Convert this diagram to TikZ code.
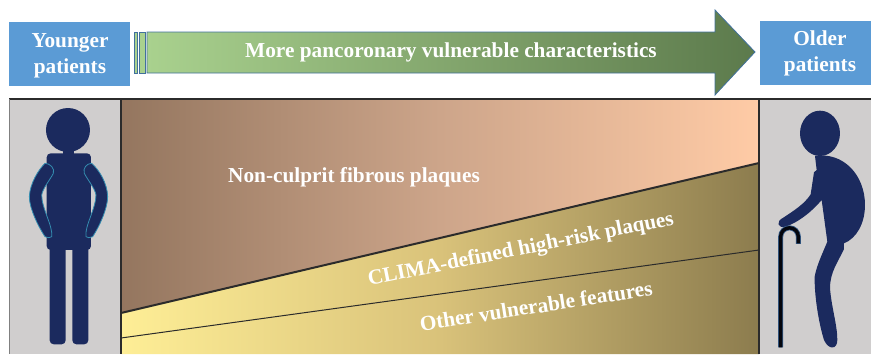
\documentclass[tikz,border=0pt]{standalone}
\usepackage{fontspec}
\setmainfont{Liberation Serif}
\usetikzlibrary{calc}

\definecolor{boxblue}{HTML}{5B9BD5}
\definecolor{edgeblue}{HTML}{41719C}
\definecolor{navyfig}{HTML}{1B2A5E}
\definecolor{panelgray}{HTML}{D0CECE}
\definecolor{framedark}{HTML}{2B2B2B}

\begin{document}
\begin{tikzpicture}[
  x=1pt, y=-1pt,
  agebox/.style={text=white, font=\bfseries\fontsize{21.3}{26}\selectfont, align=center},
  whitelabel/.style={text=white, font=\bfseries\fontsize{21.3}{26}\selectfont},
  trend/.style={draw=edgeblue, line width=0.8pt},
  figure/.style={fill=navyfig},
  armfig/.style={fill=navyfig, draw=edgeblue!80!cyan, line width=0.8pt},
  panelline/.style={draw=framedark, line width=1.3pt},
]
\useasboundingbox (0,0) rectangle (871,354);

% --- Altersboxen oben ---
\fill[boxblue] (9,22) rectangle (130,86);
\fill[boxblue] (760,21) rectangle (871,85);
\node[agebox] (younger) at (70,55.5) {Younger\\patients};
\node[agebox] (older) at (820,53.5) {Older\\patients};

% --- Pfeil mit den zwei schmalen Streifen davor ---
\draw[trend, fill={rgb,255:red,169;green,209;blue,142}] (134,32) rectangle (137.5,73);
\draw[trend, fill={rgb,255:red,169;green,209;blue,142}] (139,32) rectangle (145,73);
\draw[trend, left color={rgb,255:red,169;green,209;blue,142}, right color={rgb,255:red,92;green,122;blue,76}]
  (147,32) -- (715,32) -- (715,10) -- (755,52) -- (715,95) -- (715,73) -- (147,73) -- cycle;
\node[whitelabel] (trendlabel) at (451,52.5) {More pancoronary vulnerable characteristics};

% --- Graue Seitenfelder ---
\fill[panelgray] (9,99) rectangle (121,354);
\fill[panelgray] (759,99) rectangle (871,354);

% --- Mittelfeld: zwei Flaechen mit Verlauf ---
\shade[left color={rgb,255:red,148;green,118;blue,95}, right color={rgb,255:red,255;green,203;blue,166}, middle color={rgb,255:red,205;green,165;blue,138}]
  (121,99) -- (759,99) -- (759,163) -- (121,313) -- cycle;
\shade[left color={rgb,255:red,254;green,238;blue,150}, right color={rgb,255:red,140;green,124;blue,78}, middle color={rgb,255:red,217;green,194;blue,122}]
  (121,313) -- (759,163) -- (759,354) -- (121,354) -- cycle;

% --- Trennlinien ---
\draw[framedark, line width=2pt] (121,313) -- (759,163);
\draw[framedark, line width=1pt] (121,338) -- (759,250);

% --- Rahmen ---
\draw[framedark, line width=1.2pt] (9,99) -- (871,99);
\draw[gray, line width=1pt] (9,99) -- (9,354);
\draw[panelline] (121,99) -- (121,354);
\draw[panelline] (759,99) -- (759,354);

% --- Beschriftungen der Flaechen ---
\node[whitelabel] (fibrous) at (354,177.5) {Non-culprit fibrous plaques};
\node[whitelabel, rotate=11.3] (clima) at (521,250) {CLIMA-defined high-risk plaques};
\node[whitelabel, rotate=8.9] (other) at (536,306) {Other vulnerable features};

% --- Junge Person (Koordinaten im Massstab 1/3) ---
\begin{scope}[shift={(0,95)}, x=0.3333pt, y=-0.3333pt]
  \fill[figure] (204,105) ellipse (66 and 66);
  \fill[figure] (188,160) rectangle (222,185);
  \fill[figure, rounded corners=4pt] (140,175) rectangle (273,465);
  \fill[figure, rounded corners=4pt] (149,440) -- (197,440) -- (197,748) -- (149,748) -- cycle;
  \fill[figure, rounded corners=4pt] (217,440) -- (265,440) -- (265,748) -- (217,748) -- cycle;
  \draw[armfig] (135,205) .. controls (150,205) and (165,220) .. (160,235)
    .. controls (150,255) and (128,280) .. (125,300)
    .. controls (125,340) and (160,395) .. (155,425)
    .. controls (150,430) and (145,428) .. (135,425)
    .. controls (115,395) and (88,340) .. (88,305)
    .. controls (90,265) and (115,225) .. (135,205) -- cycle;
  \draw[armfig] (275,205) .. controls (260,205) and (248,220) .. (253,235)
    .. controls (263,255) and (285,280) .. (288,300)
    .. controls (288,340) and (253,395) .. (258,425)
    .. controls (263,430) and (268,428) .. (278,425)
    .. controls (298,395) and (323,340) .. (323,305)
    .. controls (322,265) and (298,225) .. (275,205) -- cycle;
\end{scope}

% --- Aeltere Person mit Stock ---
\begin{scope}[shift={(750,95)}, x=0.3333pt, y=-0.3333pt]
  \fill[figure] (210,115) ellipse (60 and 68);
  \fill[figure] (195,183) .. controls (280,170) and (345,240) .. (345,330)
    .. controls (345,385) and (320,430) .. (282,445)
    -- (282,462) .. controls (265,500) and (240,530) .. (240,580)
    .. controls (245,640) and (262,690) .. (262,735)
    .. controls (262,765) and (235,765) .. (222,735)
    .. controls (205,680) and (193,600) .. (194,545)
    .. controls (200,510) and (220,470) .. (232,440)
    -- (215,315) .. controls (190,345) and (150,380) .. (105,396)
    .. controls (85,400) and (75,380) .. (100,368)
    .. controls (135,345) and (165,325) .. (182,298)
    -- (192,232) -- (200,225) -- cycle;
  \draw[edgeblue!70!navyfig, line width=5pt] (92,757) -- (92,425) arc[start angle=180, end angle=360, radius=26.5] -- (145,447);
  \draw[black!85!navyfig, line width=3.4pt] (92,757) -- (92,425) arc[start angle=180, end angle=360, radius=26.5] -- (145,445);
\end{scope}
\end{tikzpicture}
\end{document}
